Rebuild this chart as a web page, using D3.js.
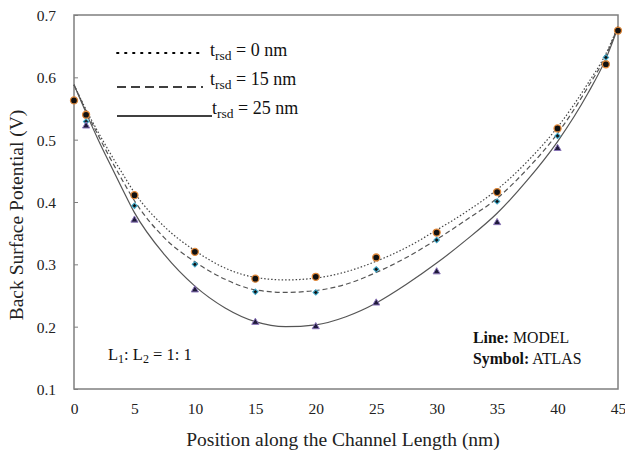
<!DOCTYPE html>
<html><head><meta charset="utf-8">
<script src="https://cdn.jsdelivr.net/npm/d3@7"></script>
<style>body{margin:0;background:#fff}svg{display:block}svg text{font-family:'Liberation Serif','Times New Roman',serif}</style>
</head><body>
<svg id="c" width="625" height="454"></svg>
<script>
// ---- Data ----
const xTicks = [0,5,10,15,20,25,30,35,40,45];
const yTicks = [0.1,0.2,0.3,0.4,0.5,0.6,0.7];
const modelX   = [0,1,2,3,4,5,7.5,10,12.5,15,17.5,20,22.5,25,27.5,30,32.5,35,37.5,40,42.5,44,45];
const model0   = [0.588,0.548,0.512,0.478,0.446,0.415,0.360,0.322,0.294,0.279,0.275,0.278,0.288,0.305,0.327,0.355,0.385,0.420,0.465,0.520,0.590,0.638,0.682];
const model15  = [0.588,0.546,0.507,0.470,0.435,0.402,0.342,0.304,0.276,0.259,0.255,0.258,0.268,0.287,0.311,0.340,0.372,0.406,0.453,0.510,0.584,0.635,0.682];
const model25  = [0.588,0.543,0.500,0.460,0.421,0.383,0.315,0.265,0.230,0.208,0.200,0.203,0.216,0.238,0.268,0.302,0.340,0.382,0.435,0.497,0.574,0.630,0.680];
const atlasX0  = [0,1,5,10,15,20,25,30,35,40,44,45];
const atlas0   = [0.563,0.540,0.411,0.320,0.277,0.280,0.311,0.351,0.416,0.518,0.621,0.675];
const atlasX15 = [1,5,10,15,20,25,30,35,40,44];
const atlas15  = [0.529,0.394,0.300,0.256,0.255,0.292,0.339,0.401,0.506,0.632];
const atlasX25 = [1,5,10,15,20,25,30,35,40];
const atlas25  = [0.522,0.371,0.259,0.207,0.200,0.238,0.288,0.367,0.486];

const svg = d3.select('#c');
const L=74, R=618, T=15, B=389;
const x = d3.scaleLinear().domain([0,45]).range([L,R]);
const y = d3.scaleLinear().domain([0.1,0.7]).range([B,T]);
const axisCol = '#7f7f7f';

// y axis ticks (inside) and labels
const yAx = svg.append('g').attr('transform',`translate(${L},0)`)
  .call(d3.axisRight(y).tickValues(yTicks).tickSize(4).tickFormat(d3.format('.1f')));
yAx.attr('font-family',null);
yAx.select('.domain').remove();
yAx.selectAll('line').attr('stroke',axisCol);
yAx.selectAll('text').attr('x',-18).attr('text-anchor','end').attr('dy','0.35em')
  .attr('font-size',15.5).attr('fill','#222');

// x axis labels (no ticks)
const xAx = svg.append('g').attr('transform',`translate(0,${B})`)
  .call(d3.axisBottom(x).tickValues(xTicks).tickSize(0).tickFormat(d3.format('d')));
xAx.attr('font-family',null);
xAx.select('.domain').remove();
xAx.selectAll('text').attr('y',14).attr('dy','0.71em').attr('font-size',15.5).attr('fill','#222');

// frame
svg.append('rect').attr('x',L).attr('y',T).attr('width',R-L).attr('height',B-T)
  .attr('fill','none').attr('stroke',axisCol).attr('stroke-width',1.5);

// model lines
const line = d3.line().x(d=>x(d[0])).y(d=>y(d[1])).curve(d3.curveMonotoneX);
const zip = (a,b)=>a.map((v,i)=>[v,b[i]]);
svg.append('path').attr('d',line(zip(modelX,model0))).attr('fill','none')
  .attr('stroke','#444').attr('stroke-width',1.2).attr('stroke-dasharray','1.5,2');
svg.append('path').attr('d',line(zip(modelX,model15))).attr('fill','none')
  .attr('stroke','#555').attr('stroke-width',1.2).attr('stroke-dasharray','5,3');
svg.append('path').attr('d',line(zip(modelX,model25))).attr('fill','none')
  .attr('stroke','#555').attr('stroke-width',1.2);

// ATLAS symbols
svg.append('g').selectAll('circle').data(zip(atlasX0,atlas0)).join('circle')
  .attr('cx',d=>x(d[0])).attr('cy',d=>y(d[1])).attr('r',3.5)
  .attr('fill','#111').attr('stroke','#e0883a').attr('stroke-width',1.3);
svg.append('g').selectAll('path').data(zip(atlasX15,atlas15)).join('path')
  .attr('d',d3.symbol(d3.symbolSquare,14))
  .attr('transform',d=>`translate(${x(d[0])},${y(d[1])}) rotate(45)`)
  .attr('fill','#111').attr('stroke','#3aa3c4').attr('stroke-width',1.1);
svg.append('g').selectAll('path').data(zip(atlasX25,atlas25)).join('path')
  .attr('d',d3.symbol(d3.symbolTriangle,22))
  .attr('transform',d=>`translate(${x(d[0])},${y(d[1])})`)
  .attr('fill','#1e1a3a').attr('stroke','#8a74b8').attr('stroke-width',1);

// legend
const leg = [
  {y:53, x2:200, dash:'1.5,6.5', w:1.8, ty:50, tx:210, t:'0'},
  {y:87, x2:203, dash:'9,5', w:1.5, ty:79, tx:210, t:'15'},
  {y:116, x2:212, dash:null, w:1.5, ty:108, tx:212, t:'25'}
];
leg.forEach(l=>{
  svg.append('line').attr('x1',117).attr('x2',l.x2).attr('y1',l.y).attr('y2',l.y)
    .attr('stroke','#000').attr('stroke-width',l.w).attr('stroke-dasharray',l.dash)
    .attr('stroke-linecap',l.dash&&l.dash.startsWith('1.5')?'round':'butt');
  const t = svg.append('text').attr('x',l.tx).attr('y',l.ty).attr('dy','0.35em')
    .attr('font-size',18).attr('fill','#111');
  t.append('tspan').text('t');
  t.append('tspan').attr('font-size',13.5).attr('dy','0.3em').text('rsd');
  t.append('tspan').attr('dy','-0.25em').text(' = ' + l.t + ' nm');
});

// L1:L2 annotation
const a = svg.append('text').attr('x',108).attr('y',354).attr('dy','0.35em')
  .attr('font-size',16.5).attr('fill','#111');
a.append('tspan').text('L');
a.append('tspan').attr('font-size',12).attr('dy','0.3em').text('1');
a.append('tspan').attr('dy','-0.22em').text(': L');
a.append('tspan').attr('font-size',12).attr('dy','0.3em').text('2');
a.append('tspan').attr('dy','-0.22em').text(' = 1: 1');

// Line/Symbol annotation
[['Line:',' MODEL',337],['Symbol:',' ATLAS',358]].forEach(r=>{
  const t = svg.append('text').attr('x',473).attr('y',r[2]).attr('dy','0.35em')
    .attr('font-size',15.8).attr('fill','#111');
  t.append('tspan').attr('font-weight','bold').text(r[0]);
  t.append('tspan').text(r[1]);
});

// axis titles
svg.append('text').attr('x',343).attr('y',439).attr('dy','0.35em').attr('text-anchor','middle')
  .attr('font-size',19.5).attr('fill','#222')
  .text('Position along the Channel Length (nm)');
svg.append('text').attr('transform',`translate(16,215) rotate(-90)`).attr('dy','0.35em')
  .attr('text-anchor','middle').attr('font-size',19.5).attr('fill','#222')
  .text('Back Surface Potential (V)');
</script>
</body></html>
